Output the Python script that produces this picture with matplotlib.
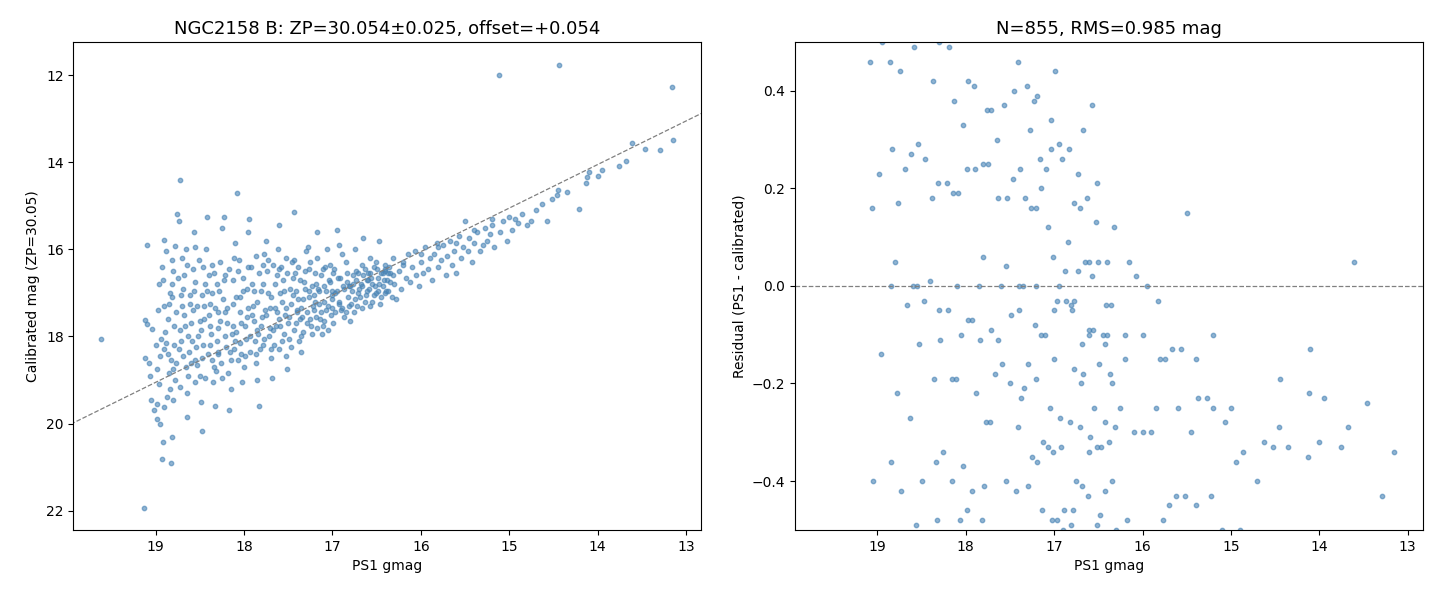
import numpy as np
import matplotlib
matplotlib.use('Agg')
import matplotlib.pyplot as plt

points = [
    (19.62, 18.07), (19.13, 21.93), (19.12, 17.63), (19.10, 17.72), (19.12, 18.50), (19.08, 18.62),
    (19.06, 18.90), (19.10, 15.90), (19.05, 19.45), (19.02, 19.70), (19.00, 18.20), (18.98, 19.90),
    (18.99, 19.55), (19.04, 17.82), (18.96, 16.80), (18.97, 17.40), (18.95, 20.02), (18.93, 20.82),
    (18.92, 20.42), (18.90, 19.62), (18.94, 18.05), (18.91, 17.30), (18.92, 16.70), (18.93, 16.40),
    (18.88, 16.05), (18.90, 15.78), (18.86, 18.40), (18.85, 18.85), (18.84, 19.20), (18.83, 20.90),
    (18.82, 20.32), (18.80, 19.45), (18.78, 19.00), (18.77, 18.60), (18.79, 17.75), (18.81, 17.10),
    (18.80, 16.50), (18.78, 15.92), (18.76, 15.20), (18.74, 15.35), (18.72, 14.40), (18.70, 16.20),
    (18.69, 16.90), (18.68, 17.50), (18.71, 18.10), (18.66, 18.70), (18.65, 19.30), (18.64, 19.85),
    (18.62, 18.35), (18.60, 17.70), (18.61, 17.05), (18.58, 16.45), (18.57, 15.60), (18.55, 15.95),
    (18.53, 17.30), (18.52, 18.00), (18.50, 18.90), (18.49, 19.50), (18.47, 20.18), (18.46, 18.20),
    (18.45, 17.60), (18.44, 16.80), (18.43, 16.00), (18.42, 15.25), (18.40, 16.60), (18.38, 17.25),
    (18.37, 17.95), (18.36, 18.55), (18.35, 19.05), (18.33, 19.60), (18.32, 18.80), (18.30, 17.80),
    (18.28, 16.95), (18.27, 16.30), (18.25, 15.50), (18.23, 15.25), (18.22, 17.45), (18.20, 18.25),
    (18.18, 18.85), (18.17, 19.70), (18.15, 19.20), (18.14, 17.95), (18.12, 16.70), (18.10, 15.85),
    (18.08, 14.70), (18.06, 16.25), (18.05, 17.10), (18.03, 18.40), (18.02, 19.05), (18.00, 18.70),
    (17.99, 17.75), (17.97, 16.90), (17.96, 15.60), (17.94, 15.30), (17.92, 16.40), (17.90, 17.30),
    (17.88, 18.10), (17.86, 18.60), (17.85, 19.00), (17.83, 19.60), (17.82, 18.30), (17.80, 17.55),
    (17.78, 16.80), (17.77, 16.10), (17.75, 15.80), (17.73, 17.00), (17.71, 17.80), (17.70, 18.50),
    (17.68, 18.95), (17.66, 18.20), (17.65, 17.35), (17.63, 16.60), (17.62, 16.00), (17.60, 15.45),
    (17.58, 16.40), (17.57, 17.20), (17.55, 17.95), (17.53, 18.45), (17.51, 18.75), (17.50, 17.70),
    (17.48, 16.90), (17.46, 16.30), (17.44, 15.15), (17.42, 16.55), (17.40, 17.40), (17.38, 18.10),
    (17.36, 18.35), (17.34, 17.55), (17.32, 16.75), (17.30, 16.05), (17.28, 15.95), (17.26, 17.10),
    (17.24, 17.75), (17.22, 17.30), (17.20, 16.55), (17.18, 15.60), (17.16, 16.90), (17.14, 17.60),
    (17.12, 17.95), (17.10, 17.20), (17.08, 16.40), (17.06, 16.00), (17.04, 16.70), (17.02, 17.50),
    (17.00, 17.15), (16.98, 16.45), (16.95, 15.55), (16.93, 15.90), (16.90, 17.40), (16.88, 16.85),
    (16.85, 16.30), (16.82, 17.10), (16.80, 17.65), (16.77, 16.60), (16.75, 16.00), (16.72, 17.30),
    (16.70, 16.90), (16.67, 16.35), (16.65, 15.75), (16.62, 17.05), (16.60, 16.55), (16.57, 16.20),
    (16.55, 17.20), (16.52, 16.85), (16.50, 16.45), (16.47, 15.80), (16.45, 17.10), (16.42, 16.70),
    (16.40, 16.35), (16.37, 16.95), (16.35, 16.55), (16.32, 16.20), (16.30, 16.80), (16.28, 17.15),
    (16.25, 16.50), (16.22, 16.90), (16.20, 16.30), (16.17, 16.65), (16.15, 16.10), (16.12, 16.75),
    (16.10, 16.40), (16.07, 16.05), (16.05, 16.60), (16.02, 16.85), (16.00, 16.30), (15.97, 16.55),
    (15.95, 15.95), (15.92, 16.45), (15.90, 16.20), (15.87, 16.70), (15.85, 16.10), (15.82, 15.85),
    (15.80, 16.40), (15.77, 16.25), (15.75, 15.90), (15.72, 16.60), (15.70, 16.15), (15.67, 15.80),
    (15.65, 16.35), (15.62, 16.05), (15.60, 16.55), (15.57, 15.70), (15.55, 16.20), (15.52, 15.95),
    (15.50, 15.35), (15.47, 16.05), (15.45, 15.75), (15.42, 16.30), (15.40, 15.85), (15.37, 15.60),
    (15.33, 16.05), (15.30, 15.90), (15.27, 15.50), (15.25, 15.80), (15.22, 15.65), (15.20, 15.45),
    (15.17, 15.95), (15.12, 12.00), (15.10, 15.60), (15.07, 15.35), (15.03, 15.80), (15.00, 15.25),
    (14.97, 15.55), (14.94, 15.30), (14.90, 15.40), (14.86, 15.20), (14.80, 15.45), (14.75, 15.35),
    (14.70, 15.10), (14.63, 14.95), (14.57, 15.35), (14.52, 14.85), (14.45, 14.64), (14.44, 11.77),
    (14.46, 14.75), (14.35, 14.68), (14.21, 15.07), (14.13, 14.48), (14.12, 14.34), (14.10, 14.23),
    (14.00, 14.32), (13.95, 14.18), (13.76, 14.09), (13.68, 13.97), (13.61, 13.56), (13.46, 13.70),
    (13.29, 13.72), (13.16, 12.28), (13.15, 13.49),
    # dense core between 19 and 16.5
    (18.95, 18.45), (18.88, 18.15), (18.86, 17.60), (18.84, 17.00), (18.82, 16.25), (18.74, 18.30),
    (18.73, 17.85), (18.70, 17.30), (18.68, 16.60), (18.66, 16.00), (18.63, 18.00), (18.60, 18.60),
    (18.58, 17.40), (18.55, 16.75), (18.54, 18.25), (18.50, 17.65), (18.48, 17.05), (18.46, 16.40),
    (18.41, 18.40), (18.39, 17.75), (18.36, 17.00), (18.34, 16.55), (18.31, 18.10), (18.29, 17.45),
    (18.26, 18.60), (18.24, 17.15), (18.21, 16.60), (18.19, 17.70), (18.16, 18.35), (18.13, 17.25),
    (18.11, 16.20), (18.09, 17.90), (18.07, 18.55), (18.04, 17.45), (18.01, 16.65), (17.98, 18.05),
    (17.95, 17.35), (17.93, 18.35), (17.91, 16.80), (17.89, 17.65), (17.87, 16.15), (17.84, 17.95),
    (17.81, 16.95), (17.79, 18.20), (17.76, 17.40), (17.74, 16.50), (17.72, 18.00), (17.69, 17.10),
    (17.67, 16.35), (17.64, 17.75), (17.61, 18.30), (17.59, 17.00), (17.56, 16.70), (17.54, 17.50),
    (17.52, 16.20), (17.49, 18.05), (17.47, 17.25), (17.45, 16.65), (17.43, 17.85), (17.41, 16.95),
    (17.39, 16.40), (17.37, 17.60), (17.35, 18.00), (17.33, 17.15), (17.31, 16.50), (17.29, 17.70),
    (17.27, 16.95), (17.25, 16.30), (17.23, 17.95), (17.21, 17.05), (17.19, 17.55), (17.17, 16.20),
    (17.15, 17.25), (17.13, 16.60), (17.11, 17.75), (17.09, 16.85), (17.07, 17.40), (17.05, 17.85),
    (17.03, 16.35), (17.01, 16.95), (16.99, 17.70), (16.97, 17.00), (16.94, 16.65), (16.92, 17.25),
    (16.89, 16.10), (16.87, 17.55), (16.84, 16.75), (16.81, 17.30), (16.78, 16.95), (16.76, 17.45),
    (16.73, 16.50), (16.71, 17.00), (16.68, 16.80), (16.66, 17.35), (16.63, 16.45), (16.61, 16.95),
    (16.58, 17.30), (16.56, 16.65), (16.53, 17.05), (16.51, 16.30), (16.48, 16.95), (16.46, 17.25),
    (16.43, 16.55), (16.41, 17.00), (16.38, 16.70), (16.36, 16.40), (16.33, 17.10), (16.31, 16.60),
    (17.60, 17.60), (17.85, 17.85), (18.10, 18.10), (18.30, 18.35), (18.55, 18.55), (18.80, 18.75),
    (17.40, 17.45), (17.20, 17.20), (17.00, 17.05), (16.80, 16.85), (16.60, 16.70), (16.40, 16.50),
    (16.20, 16.35), (16.00, 16.10), (15.80, 15.95), (15.60, 15.85), (15.40, 15.55), (15.20, 15.30),
    # more of the core
    (18.98, 18.75), (18.96, 19.10), (18.91, 18.30), (18.89, 17.90), (18.87, 19.40), (18.85, 17.25),
    (18.83, 18.55), (18.81, 16.80), (18.79, 18.20), (18.77, 17.45), (18.75, 16.65), (18.73, 19.15),
    (18.71, 17.05), (18.69, 18.45), (18.67, 17.75), (18.65, 16.35), (18.63, 18.90), (18.61, 17.25),
    (18.59, 18.10), (18.57, 16.95), (18.56, 19.05), (18.53, 18.65), (18.51, 16.25), (18.49, 17.85),
    (18.47, 18.50), (18.45, 17.30), (18.44, 18.95), (18.42, 16.95), (18.40, 17.50), (18.38, 18.20),
    (18.36, 16.35), (18.34, 18.70), (18.33, 17.35), (18.31, 16.80), (18.29, 18.40), (18.27, 17.65),
    (18.25, 18.95), (18.23, 16.70), (18.21, 18.00), (18.19, 17.35), (18.17, 16.45), (18.15, 18.55),
    (18.13, 17.75), (18.11, 18.30), (18.09, 17.10), (18.07, 16.50), (18.05, 18.15), (18.03, 17.70),
    (18.01, 16.95), (17.99, 18.45), (17.97, 17.55), (17.95, 16.40), (17.93, 18.00), (17.91, 17.50),
    (17.89, 16.95), (17.87, 18.40), (17.85, 17.20), (17.83, 16.55), (17.81, 17.75), (17.79, 16.35),
    (17.77, 18.05), (17.75, 17.50), (17.73, 16.25), (17.71, 17.35), (17.69, 18.30), (17.67, 17.85),
    (17.65, 16.80), (17.63, 17.45), (17.61, 16.45), (17.59, 17.75), (17.57, 18.10), (17.55, 16.95),
    (17.53, 17.35), (17.51, 16.55), (17.49, 17.55), (17.47, 18.25), (17.45, 17.05), (17.43, 16.25),
    (17.41, 17.70), (17.39, 17.15), (17.37, 16.70), (17.35, 17.35), (17.33, 17.90), (17.31, 16.90),
    (17.29, 17.45), (17.27, 16.45), (17.25, 17.60), (17.23, 16.85), (17.21, 17.40), (17.19, 16.80),
    (17.17, 17.80), (17.15, 16.95), (17.13, 17.45), (17.11, 16.45), (17.09, 17.65), (17.07, 16.95),
    (17.05, 17.30), (17.03, 16.75), (17.01, 17.35), (16.99, 16.55), (16.97, 17.45), (16.95, 16.95),
    (16.93, 17.20), (16.91, 16.65), (16.89, 17.35), (16.87, 16.90), (16.85, 17.45), (16.83, 16.55),
    (16.81, 16.85), (16.79, 17.25), (16.77, 16.80), (16.75, 17.15), (16.73, 16.70), (16.71, 16.55),
    (16.69, 17.10), (16.67, 16.85), (16.65, 16.60), (16.63, 17.20), (16.61, 16.70), (16.59, 16.90),
    (16.57, 16.55), (16.55, 16.80), (16.53, 16.40), (16.51, 17.00), (16.49, 16.65), (16.47, 16.80),
    (16.45, 16.55), (16.43, 16.85), (16.41, 16.45), (16.39, 16.95), (16.37, 16.55), (16.35, 16.75),
]
ps1 = np.array([p[0] for p in points])
cal = np.array([p[1] for p in points])
residual = ps1 - cal

zp = 30.054
zp_err = 0.025
offset = 0.054
n_stars = 855
rms = 0.985

fig, (ax1, ax2) = plt.subplots(1, 2, figsize=(14.4, 6), dpi=100)

ax1.scatter(ps1, cal, s=10, alpha=0.6, color='steelblue')
line_x = np.array([20.5, 12.0])
ax1.plot(line_x, line_x + offset, '--', color='gray', lw=0.9)
ax1.set_xlim(19.93, 12.83)
ax1.set_ylim(22.44, 11.24)
ax1.set_xlabel('PS1 gmag')
ax1.set_ylabel('Calibrated mag (ZP=30.05)')
ax1.set_title(f'NGC2158 B: ZP={zp:.3f}\u00b1{zp_err:.3f}, offset=+{offset:.3f}', fontsize=13)

ax2.scatter(ps1, residual, s=10, alpha=0.6, color='steelblue')
ax2.axhline(0, ls='--', color='gray', lw=0.9)
ax2.set_xlim(19.93, 12.83)
ax2.set_ylim(-0.5, 0.5)
ax2.set_xlabel('PS1 gmag')
ax2.set_ylabel('Residual (PS1 - calibrated)')
ax2.set_title(f'N={n_stars}, RMS={rms:.3f} mag', fontsize=13)

plt.subplots_adjust(left=0.051, right=0.988, bottom=0.117, top=0.93, wspace=0.15)
plt.savefig('out.png')
